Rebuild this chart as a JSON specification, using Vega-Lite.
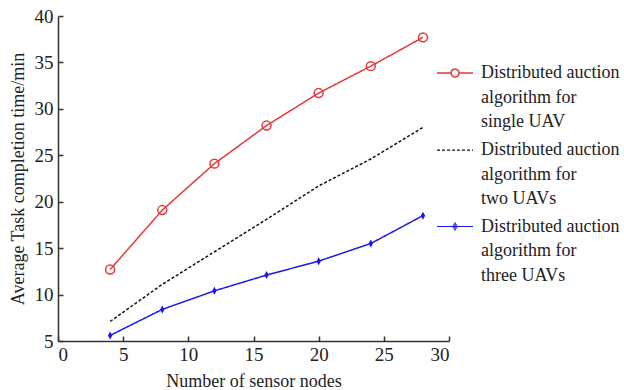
{
  "$schema": "https://vega.github.io/schema/vega-lite/v6.json",
  "width": 391,
  "height": 325,
  "autosize": "none",
  "padding": {"left": 58, "top": 16, "right": 175, "bottom": 49},
  "background": "white",
  "config": {
    "view": {"stroke": null},
    "font": "Liberation Serif",
    "axis": {
      "grid": false,
      "domainColor": "#333333",
      "domainWidth": 1.5,
      "tickColor": "#333333",
      "tickWidth": 1.5,
      "tickSize": -5,
      "labelFont": "Liberation Serif",
      "labelFontSize": 19,
      "labelColor": "#222222",
      "titleFont": "Liberation Serif",
      "titleFontSize": 18,
      "titleFontWeight": "normal",
      "titleColor": "#222222"
    },
    "legend": {
      "labelFont": "Liberation Serif",
      "labelFontSize": 18,
      "labelColor": "#222222"
    }
  },
  "data": {
    "values": [
      {"n": 4, "t": 12.7, "series": "single"},
      {"n": 8, "t": 19.1, "series": "single"},
      {"n": 12, "t": 24.1, "series": "single"},
      {"n": 16, "t": 28.2, "series": "single"},
      {"n": 20, "t": 31.7, "series": "single"},
      {"n": 24, "t": 34.6, "series": "single"},
      {"n": 28, "t": 37.7, "series": "single"},
      {"n": 4, "t": 7.1, "series": "two"},
      {"n": 8, "t": 11.1, "series": "two"},
      {"n": 12, "t": 14.6, "series": "two"},
      {"n": 16, "t": 18.1, "series": "two"},
      {"n": 20, "t": 21.7, "series": "two"},
      {"n": 24, "t": 24.6, "series": "two"},
      {"n": 28, "t": 28.0, "series": "two"},
      {"n": 4, "t": 5.6, "series": "three"},
      {"n": 8, "t": 8.4, "series": "three"},
      {"n": 12, "t": 10.4, "series": "three"},
      {"n": 16, "t": 12.1, "series": "three"},
      {"n": 20, "t": 13.6, "series": "three"},
      {"n": 24, "t": 15.5, "series": "three"},
      {"n": 28, "t": 18.5, "series": "three"}
    ]
  },
  "encoding": {
    "x": {
      "field": "n", "type": "quantitative",
      "scale": {"domain": [0, 30], "nice": false},
      "axis": {"values": [0, 5, 10, 15, 20, 25, 30], "title": "Number of sensor nodes", "labelPadding": 9, "titlePadding": 8}
    },
    "y": {
      "field": "t", "type": "quantitative",
      "scale": {"domain": [5, 40], "nice": false, "zero": false},
      "axis": {"values": [5, 10, 15, 20, 25, 30, 35, 40], "title": "Average Task completion time/min", "labelPadding": 10, "titlePadding": 7}
    }
  },
  "layer": [
    {
      "mark": {"type": "line", "strokeWidth": 1.5},
      "encoding": {
        "color": {
          "field": "series", "type": "nominal",
          "scale": {"domain": ["single", "two", "three"], "range": ["#e8363a", "#111111", "#1a1ae6"]},
          "legend": {
            "title": null, "orient": "none", "legendX": 378, "legendY": 38,
            "padding": 0, "rowPadding": -3, "labelOffset": 7, "symbolSize": 1296,
            "symbolStrokeWidth": 1.5, "labelBaseline": "middle",
            "labelExpr": "datum.value == 'single' ? ['Distributed auction', 'algorithm for', 'single UAV'] : datum.value == 'two' ? ['Distributed auction', 'algorithm for', 'two UAVs'] : ['Distributed auction', 'algorithm for', 'three UAVs']",
            "encode": {"labels": {"update": {"lineHeight": {"value": 24.5}}}}
          }
        },
        "strokeDash": {
          "field": "series", "type": "nominal",
          "scale": {"domain": ["single", "two", "three"], "range": [[1, 0], [3, 2], [1, 0]]}
        },
        "strokeWidth": {
          "field": "series", "type": "nominal",
          "scale": {"domain": ["single", "two", "three"], "range": [1.5, 1, 1.5]},
          "legend": null
        }
      }
    },
    {
      "transform": [{"filter": "false"}],
      "mark": {"type": "point", "filled": false, "strokeWidth": 1.5, "size": 1296},
      "encoding": {
        "color": {"field": "series", "type": "nominal"},
        "shape": {
          "field": "series", "type": "nominal",
          "scale": {"domain": ["single", "two", "three"], "range": [
            "M-1,0H-0.22M0.22,0H1M-0.22,0A0.22,0.22 0 1,1 0.22,0A0.22,0.22 0 1,1 -0.22,0",
            "M-1,0H1",
            "M-1,0H1M0,-0.22L0.13,0L0,0.22L-0.13,0ZM0,-0.12L0.07,0L0,0.12L-0.07,0Z"
          ]}
        }
      }
    },
    {
      "transform": [{"filter": "datum.series == 'single'"}],
      "mark": {"type": "point", "shape": "circle", "filled": false, "color": "#e8363a", "strokeWidth": 1.5, "size": 80, "opacity": 1}
    },
    {
      "transform": [{"filter": "datum.series == 'three'"}],
      "mark": {"type": "point", "shape": "M0,-1L0.55,0L0,1L-0.55,0Z", "filled": true, "color": "#1a1ae6", "size": 64, "opacity": 1}
    }
  ]
}
